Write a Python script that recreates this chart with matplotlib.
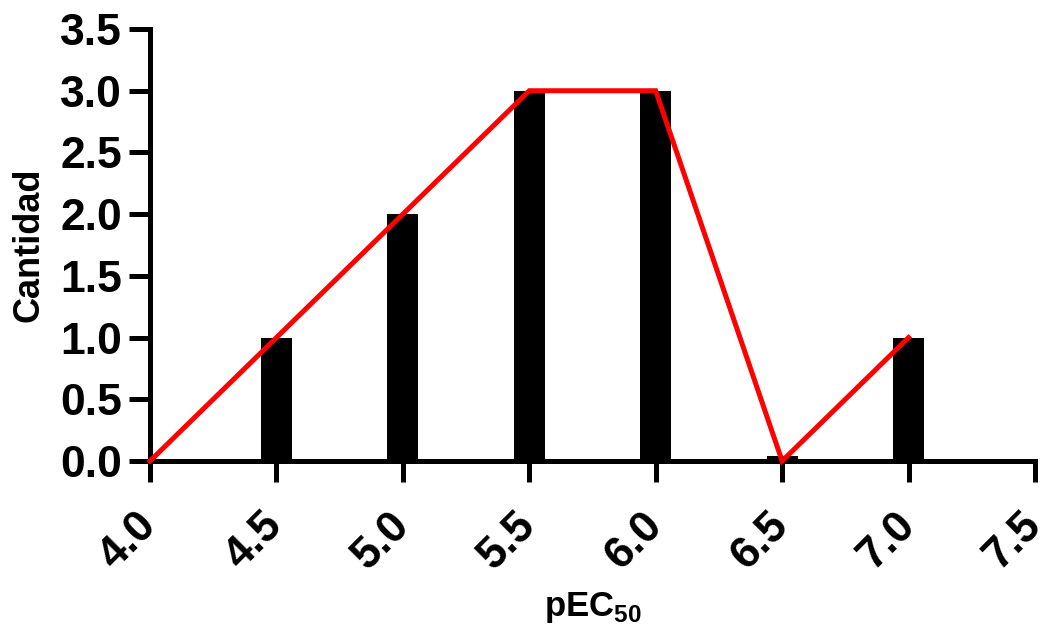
import matplotlib
matplotlib.use("Agg")
import matplotlib.pyplot as plt

# --- Data ---
bar_x = [4.5, 5.0, 5.5, 6.0, 6.5, 7.0]
bar_counts = [1, 2, 3, 3, 0.04, 1]
line_x = [4.0, 4.5, 5.0, 5.5, 6.0, 6.5, 7.0]
line_counts = [0, 1, 2, 3, 3, 0, 1]
x_ticks = [4.0, 4.5, 5.0, 5.5, 6.0, 6.5, 7.0, 7.5]
y_ticks = [0.0, 0.5, 1.0, 1.5, 2.0, 2.5, 3.0, 3.5]

plt.rcParams['font.family'] = ['Liberation Sans', 'DejaVu Sans']
plt.rcParams['font.weight'] = 'bold'
plt.rcParams['mathtext.fontset'] = 'custom'
plt.rcParams['mathtext.bf'] = 'Liberation Sans:bold'
plt.rcParams['mathtext.rm'] = 'Liberation Sans:bold'

fig = plt.figure(figsize=(10.52, 6.24), dpi=100)
ax = fig.add_axes([0.1426, 0.2612, 0.8412, 0.6923])

ax.bar(bar_x, bar_counts, width=0.122, color='black', zorder=2)
ax.plot(line_x, line_counts, color='#ff0000', lw=3.6, zorder=4, clip_on=False,
        solid_joinstyle='miter')

ax.set_xlim(4.0, 7.5)
ax.set_ylim(0, 3.5)
ax.set_xticks(x_ticks)
ax.set_yticks(y_ticks)
ax.set_xticklabels([f'{v:.1f}' for v in x_ticks], rotation=45, ha='right',
                   va='center', rotation_mode='anchor', fontsize=32, fontweight='bold')
ax.set_yticklabels([f'{v:.1f}' for v in y_ticks], fontsize=32, fontweight='bold')

for side in ['top', 'right']:
    ax.spines[side].set_visible(False)
for side in ['left', 'bottom']:
    ax.spines[side].set_linewidth(3.6)
    ax.spines[side].set_zorder(3)
ax.tick_params(axis='both', width=3.6, length=15, pad=5)
ax.tick_params(axis='x', pad=27)

ax.set_ylabel('Cantidad', fontsize=26, fontweight='bold', labelpad=10)
ax.set_xlabel(r'$\mathbf{pEC}_{\mathbf{50}}$', fontsize=25, labelpad=9)

fig.savefig('out.png', dpi=100)
